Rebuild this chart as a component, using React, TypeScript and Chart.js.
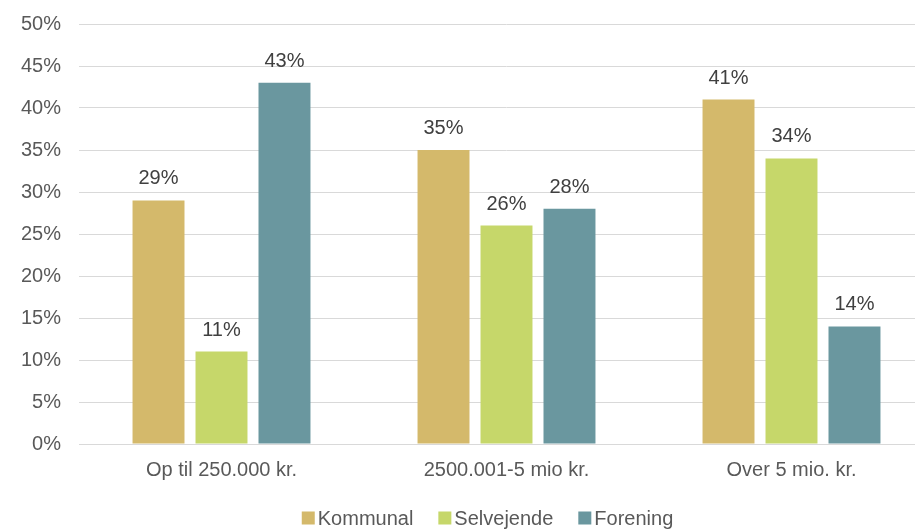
import React, { useEffect, useRef } from "react";
import { Chart, registerables } from "chart.js";

Chart.register(...registerables);

const categories = ["Op til 250.000 kr.", "2500.001-5 mio kr.", "Over 5 mio. kr."];
const seriesNames = ["Kommunal", "Selvejende", "Forening"];
const kommunal = [29, 35, 41];
const selvejende = [11, 26, 34];
const forening = [43, 28, 14];
const seriesColors = ["#D4B96B", "#C6D76A", "#6A979F"];
const yMax = 50;
const yStep = 5;

const FONT = "'Liberation Sans', Arial, sans-serif";
const TEXT = "#595959";

const valueLabels = {
  id: "valueLabels",
  afterDatasetsDraw(chart: any) {
    const ctx = chart.ctx;
    ctx.save();
    ctx.font = `20px ${FONT}`;
    ctx.fillStyle = "#404040";
    ctx.textAlign = "center";
    ctx.textBaseline = "alphabetic";
    chart.data.datasets.forEach((ds: any, i: number) => {
      const meta = chart.getDatasetMeta(i);
      meta.data.forEach((el: any, j: number) => {
        ctx.fillText(ds.data[j] + "%", el.x, el.y - 16);
      });
    });
    ctx.restore();
  },
};

// Compact legend: small square, tight gap to text, drawn under the axis labels
const compactLegend = {
  id: "compactLegend",
  afterDraw(chart: any) {
    const ctx = chart.ctx;
    const box = 13;
    const gapText = 3;
    const gapItem = 25;
    ctx.save();
    ctx.font = `20px ${FONT}`;
    const items = chart.data.datasets.map((ds: any) => ({
      label: ds.label,
      color: ds.backgroundColor,
      w: ctx.measureText(ds.label).width,
    }));
    const total =
      items.reduce((s: number, it: any) => s + box + gapText + it.w, 0) + gapItem * (items.length - 1);
    const centerX = chart.width / 2 + 20;
    const cy = chart.height - 11;
    let x = centerX - total / 2;
    ctx.textBaseline = "middle";
    ctx.textAlign = "left";
    items.forEach((it: any) => {
      ctx.fillStyle = it.color;
      ctx.fillRect(x, cy - box / 2, box, box);
      x += box + gapText;
      ctx.fillStyle = TEXT;
      ctx.fillText(it.label, x, cy + 1);
      x += it.w + gapItem;
    });
    ctx.restore();
  },
};

export default function App() {
  const ref = useRef<HTMLCanvasElement | null>(null);

  useEffect(() => {
    document.body.style.overflow = "hidden";
    document.documentElement.style.overflow = "hidden";
    const data = [kommunal, selvejende, forening];
    const chart = new Chart(ref.current!, {
      type: "bar",
      data: {
        labels: categories,
        datasets: seriesNames.map((name, i) => ({
          label: name,
          data: data[i],
          backgroundColor: seriesColors[i],
          categoryPercentage: 0.663,
          barPercentage: 0.825,
        })),
      },
      plugins: [valueLabels, compactLegend],
      options: {
        animation: false,
        responsive: false,
        maintainAspectRatio: false,
        layout: { padding: { top: 24, right: 1, left: 0, bottom: 33 } },
        scales: {
          x: {
            grid: { display: false, drawTicks: false },
            border: { display: true, color: "#D9D9D9", width: 1 },
            ticks: { color: TEXT, font: { family: FONT, size: 20 }, padding: 14 },
          },
          y: {
            min: 0,
            max: yMax,
            afterFit(scale: any) {
              scale.width = 79;
              scale.paddingTop = 0;
              scale.paddingBottom = 0;
            },
            grid: { color: "#D9D9D9", drawTicks: false },
            border: { display: false },
            ticks: {
              stepSize: yStep,
              color: TEXT,
              padding: 18,
              font: { family: FONT, size: 20 },
              callback: (v: any) => v + "%",
            },
          },
        },
        plugins: {
          legend: { display: false },
          tooltip: { enabled: false },
        },
      },
    });
    return () => chart.destroy();
  }, []);

  return (
    <div style={{ position: "fixed", left: 0, top: 0, width: 935, height: 529 }}>
      <canvas ref={ref} width={935} height={529} style={{ display: "block" }} />
    </div>
  );
}
